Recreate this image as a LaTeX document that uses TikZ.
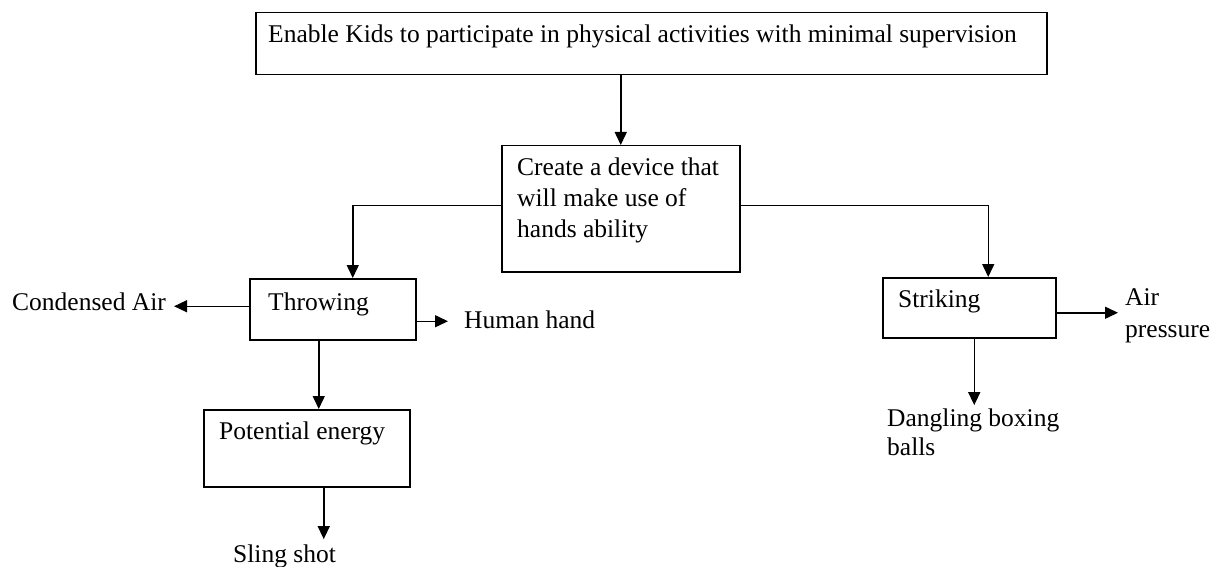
\documentclass[tikz,border=0pt]{standalone}
\usepackage{fontspec}
\setmainfont{Liberation Serif}
\usetikzlibrary{arrows.meta,calc}
\begin{document}
\begin{tikzpicture}[x=1pt,y=-1pt,
  box/.style={draw, line width=1.5pt, inner sep=0pt, anchor=north west},
  txt/.style={inner sep=0pt, anchor=base west, align=left, font=\fontsize{25.5}{31}\selectfont},
  arr/.style={line width=1.5pt, -{Triangle[length=13pt,width=12pt]}}]
\useasboundingbox (0,0) rectangle (1219,567);
% boxes
\node[box, minimum width=791pt, minimum height=62pt] (top) at (255,12) {};
\node[box, minimum width=238pt, minimum height=126pt] (dev) at (501,145) {};
\node[box, minimum width=166pt, minimum height=61pt] (throw) at (249,278) {};
\node[box, minimum width=206pt, minimum height=77pt] (pe) at (203,409) {};
\node[box, minimum width=173pt, minimum height=60pt] (strike) at (882,277) {};
% texts (multi-line texts are placed by the baseline of their last line)
\node[txt] (toptext) at (268,43) {Enable Kids to participate in physical activities with minimal supervision};
\node[txt] (devtext) at (517,237) {Create a device that\\will make use of\\hands ability};
\node[txt] (throwtext) at (268,310) {Throwing};
\node[txt] (cond) at (12,310) {Condensed Air};
\node[txt] (human) at (464,328) {Human hand};
\node[txt] (petext) at (219,439) {Potential energy};
\node[txt] (sling) at (233,562) {Sling shot};
\node[txt] (striketext) at (898,307) {Striking};
\node[txt, font=\fontsize{25.5}{32}\selectfont] (air) at (1125,337) {Air\\pressure};
\node[txt, font=\fontsize{25.5}{29}\selectfont] (dangling) at (887,455) {Dangling boxing\\balls};
% connectors
\draw[arr] (top.south -| dev.north) -- (dev.north);
\draw[arr] ([yshift=3pt]dev.west) -| ([xshift=20pt]throw.north);
\draw[arr] ([yshift=3pt]dev.east) -| ([xshift=19pt]strike.north);
\draw[arr, shorten >=8pt] ([yshift=3pt]throw.west) -- ([yshift=3pt]throw.west -| cond.east);
\draw[arr, shorten >=16pt] ([yshift=-12pt]throw.east) -- ([yshift=-12pt]throw.east -| human.west);
\draw[arr] ([xshift=-14pt]throw.south) -- ([xshift=-14pt]throw.south |- pe.north);
\draw[arr, shorten >=5pt] ([xshift=17pt]pe.south) -- ([xshift=17pt]pe.south |- sling.north);
\draw[arr, shorten >=7pt] ([yshift=-5pt]strike.east) -- ([yshift=-5pt]strike.east -| air.west);
\draw[arr, shorten >=3pt] ([xshift=5pt]strike.south) -- ([xshift=5pt]strike.south |- dangling.north);
\end{tikzpicture}
\end{document}
